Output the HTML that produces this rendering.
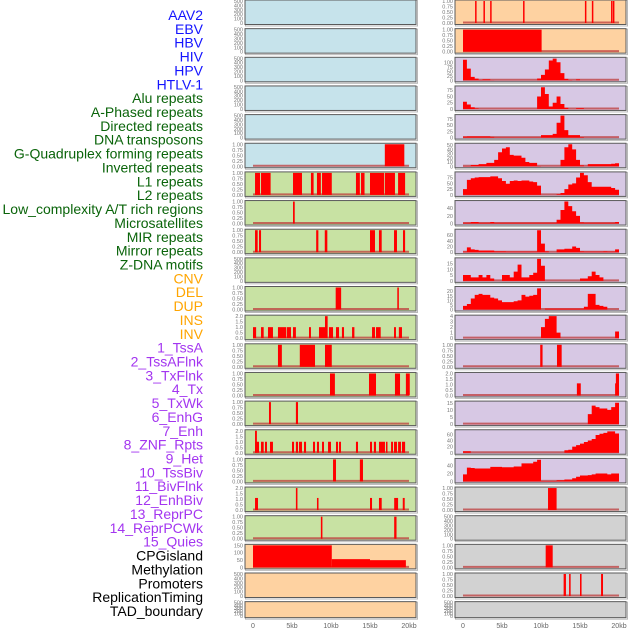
<!DOCTYPE html>
<html><head><meta charset="utf-8">
<style>
html,body{margin:0;padding:0;background:#fff;}
svg{display:block;font-family:"Liberation Sans",sans-serif;}
</style></head>
<body>
<svg id="chart" width="630" height="630" viewBox="0 0 630 630" xmlns="http://www.w3.org/2000/svg"></svg>
<script>
// ---------- labels ----------
const trackLabels = ["AAV2","EBV","HBV","HIV","HPV","HTLV-1","Alu repeats","A-Phased repeats","Directed repeats","DNA transposons","G-Quadruplex forming repeats","Inverted repeats","L1 repeats","L2 repeats","Low_complexity A/T rich regions","Microsatellites","MIR repeats","Mirror repeats","Z-DNA motifs","CNV","DEL","DUP","INS","INV","1_TssA","2_TssAFlnk","3_TxFlnk","4_Tx","5_TxWk","6_EnhG","7_Enh","8_ZNF_Rpts","9_Het","10_TssBiv","11_BivFlnk","12_EnhBiv","13_ReprPC","14_ReprPCWk","15_Quies","CPGisland","Methylation","Promoters","ReplicationTiming","TAD_boundary"];
const labelColors = ["#1414ff","#1414ff","#1414ff","#1414ff","#1414ff","#1414ff","#0a640a","#0a640a","#0a640a","#0a640a","#0a640a","#0a640a","#0a640a","#0a640a","#0a640a","#0a640a","#0a640a","#0a640a","#0a640a","#ffa500","#ffa500","#ffa500","#ffa500","#ffa500","#a335f0","#a335f0","#a335f0","#a335f0","#a335f0","#a335f0","#a335f0","#a335f0","#a335f0","#a335f0","#a335f0","#a335f0","#a335f0","#a335f0","#a335f0","#000","#000","#000","#000","#000"];
const xTickValues = [0,5,10,15,20];
const xTickLabels = ["0","5kb","10kb","15kb","20kb"];

// ---------- tick sets ----------
const ticks01 = [0,0.25,0.5,0.75,1];
const ticks01Labels = ["0.00","0.25","0.50","0.75","1.00"];
const ticks02 = [0,0.5,1,1.5,2];
const ticks02Labels = ["0.0","0.5","1.0","1.5","2.0"];
const ticks500 = [0,100,200,300,400,500];

// ---------- left column bar data [startKb, endKb, height] ----------
const barsL5 = [[16.9,19.4,1]];
const barsL6 = [[0.26,0.9,1],[1.03,2.26,1],[5.13,6.28,1],[7.43,7.77,1],[8.2,8.7,1],[8.85,10.1,1],[13.2,13.7,1],[13.85,14.3,1],[15.0,16.8,1],[16.9,18.2,1],[18.6,19.5,1]];
const barsL7 = [[5.13,5.35,1]];
const barsL8 = [[0.26,0.6,1],[0.77,1.03,1],[8.1,8.38,1],[9.2,9.53,1],[15.0,15.64,1],[16.15,16.5,1],[18.08,18.46,1],[19.23,19.5,1]];
const barsL10 = [[10.6,11.3,1],[18.5,18.7,1]];
const barsL11 = [[0,0.4,1],[1.03,1.37,1],[1.92,2.56,1],[3.2,4.27,1],[4.36,4.87,1],[5.13,5.5,1],[7.18,7.43,1],[8.46,9.23,1],[9.23,9.57,2],[9.74,10.26,1],[10.64,11.03,1],[11.4,11.67,1],[12.7,13.0,1],[15.26,15.64,1],[15.77,16.37,1],[18.08,18.33,1],[18.7,19.1,1]];
const barsL12 = [[3.2,3.7,1],[6.0,7.95,1],[9.23,10.1,1]];
const barsL13 = [[9.87,10.5,1],[14.87,15.77,1],[18.2,18.85,1],[19.6,20.1,1]];
const barsL14 = [[2.05,2.3,1],[5.5,5.77,1]];
const barsL15 = [[0.26,0.77,1],[0.26,0.5,2],[1.03,1.37,1],[1.54,1.79,1],[2.18,2.56,1],[5.0,5.26,1],[5.5,5.77,1],[5.9,6.28,1],[6.54,6.8,1],[7.69,7.95,1],[8.2,8.46,1],[8.85,9.1,1],[9.62,10.0,1],[10.64,10.9,1],[11.03,11.28,1],[13.2,13.46,1],[15.0,15.26,1],[15.5,15.77,1],[16.15,16.92,1],[17.05,17.2,1],[17.7,17.95,1],[18.08,18.46,1],[18.6,18.97,1],[19.1,19.5,1]];
const barsL16 = [[10.26,10.64,1],[13.7,14.1,1]];
const barsL17 = [[0.26,0.64,1.1],[5.5,5.7,2],[8.2,8.4,1.1],[15.0,15.26,1.1],[16.15,16.5,1.1],[18.1,18.6,1.1],[19.2,19.45,1.1]];
const barsL18 = [[8.7,8.9,1],[18.1,18.4,1]];
const barsL19 = [[0,10.1,150],[10.1,15.0,56],[15.0,19.6,49]];

// ---------- right column bar data ----------
const barsR0 = [[1.55,1.7,1],[2.62,2.77,1],[3.48,3.63,1],[7.7,7.85,1],[15.63,15.78,1],[16.52,16.67,1],[18.98,19.13,1],[19.22,19.37,1]];
const barsR1 = [[0,10.08,1]];
const barsR12 = [[9.9,10.2,1],[12.05,12.65,1]];
const barsR13 = [[14.6,15.1,1.1],[19.5,19.7,1.1],[19.6,20.0,2]];
const barsR17 = [[10.9,12.0,1]];
const barsR19 = [[10.6,11.5,1]];
const barsR20 = [[12.9,13.2,1],[13.6,13.8,1],[15.0,15.2,1],[17.7,17.95,1]];

// ---------- right column area data (0.5kb bins, 40 bins) ----------
const binSizeKb = 0.5;
const areaR2 = [114,65,19,9,2,5,5,1,0,0,0,0,0,0,0,0,0,0,0,10,30,60,110,120,100,40,8,2,0,5,0,0,0,0,0,0,0,0,0,0];
const areaR3 = [29,18,7,2,0,0,0,0,0,0,0,0,0,0,0,0,0,0,0,50,87,60,10,25,50,20,5,0,0,3,3,0,0,0,0,0,0,0,0,0];
const areaR4 = [4,5,5,5,5,5,5,3,1,1,1,1,1,1,1,1,1,1,1,1,10,10,10,15,60,89,30,10,10,10,2,0,0,0,0,0,0,0,0,0];
const areaR5 = [0.5,0.5,3,3,5,5,8,8,15,33,42,45,27,25,25,20,10,8,8,0.5,0,0,0,0,0,15,45,52,40,15,2,0,5,5,5,5,5,5,6,7];
const areaR6 = [25,65,72,75,77,77,77,80,80,72,60,48,60,62,60,62,62,58,55,40,0,0,0,0,3,8,25,45,50,75,95,85,55,35,35,35,35,35,30,22];
const areaR7 = [2,2,4,4,2,2,2,4,2,2,2,2,2,2,2,2,2,2,2,2,2,2,2,2,10,35,57,45,32,20,3,2,2,2,2,2,2,2,2,4];
const areaR8 = [2,17,10,8,6,6,6,6,3,3,3,2,2,2,2,2,2,2,2,77,30,3,0,0,10,10,12,12,20,15,3,2,2,2,2,2,3,2,2,10];
const areaR9 = [5,5,3,3,5,3,5,2,0,0,5,5,3,8,14,3,3,5,7,19,13,0,0,0,0,0,0,0,0,0,2,2,4,8,5,3,0,0,0,0];
const areaR10 = [4,6,12,16,17,16,16,13,12,10,8,8,8,9,10,16,14,15,16,23,0,1,1,1,1,1,1,1,1,1,1,3,17,17,5,4,3,0,0,0];
const areaR11 = [0,0,0,0,0,0,0,0,0,0,0,0,0,0,0,0,0,0,0,0,2,3.5,4,4,1,0,0,0,0,0,0,0,0,0,0,0,0,0,0,1.2];
const areaR14 = [0,0,0,0,0,0,0,0,0,0,0,0,0,0,0,0,0,0,0,0,0,0,0,0,0,0,0,0,0,0,0,0,7,13,12,11,11,10,12,15];
const areaR15 = [5,5,0,0,0,0,0,0,0,0,0,0,0,0,0,0,0,0,0,0,0,0,0,0,0,0,8,10,20,25,30,35,40,45,58,62,65,70,70,63];
const areaR16 = [18,35,34,33,33,33,33,37,37,37,36,36,36,38,38,46,46,46,50,55,1,1,1,1,3,3,5,5,8,12,15,15,16,18,20,20,20,18,20,20];

// ---------- panel configuration ----------
const LEFT_X = 245, RIGHT_X = 455, PANEL_W = 171;
const PITCH = 28.65, PANEL_H = 24.5, LAST_H = 16;
const C_BLUE="#c6e3eb", C_GREEN="#c8e2a3", C_PEACH="#fed2a1", C_LAV="#d7c8e4", C_GRAY="#d2d2d2";

function emptyP(fill){return {fill:fill,ymax:500,ticks:ticks500,tickLabels:null};}
function barP(fill,bars,ymax,ticks,labels){return {fill:fill,bars:bars,ymax:ymax,ticks:ticks,tickLabels:labels};}
function areaP(fill,area,ymax,ticks){return {fill:fill,area:area,ymax:ymax,ticks:ticks,tickLabels:null};}

const leftPanels = [
  emptyP(C_BLUE),emptyP(C_BLUE),emptyP(C_BLUE),emptyP(C_BLUE),emptyP(C_BLUE),
  barP(C_BLUE,barsL5,1,ticks01,ticks01Labels),
  barP(C_GREEN,barsL6,1,ticks01,ticks01Labels),
  barP(C_GREEN,barsL7,1,ticks01,ticks01Labels),
  barP(C_GREEN,barsL8,1,ticks01,ticks01Labels),
  emptyP(C_GREEN),
  barP(C_GREEN,barsL10,1,ticks01,ticks01Labels),
  barP(C_GREEN,barsL11,2,ticks02,ticks02Labels),
  barP(C_GREEN,barsL12,1,ticks01,ticks01Labels),
  barP(C_GREEN,barsL13,1,ticks01,ticks01Labels),
  barP(C_GREEN,barsL14,1,ticks01,ticks01Labels),
  barP(C_GREEN,barsL15,2,ticks02,ticks02Labels),
  barP(C_GREEN,barsL16,1,ticks01,ticks01Labels),
  barP(C_GREEN,barsL17,2,ticks02,ticks02Labels),
  barP(C_GREEN,barsL18,1,ticks01,ticks01Labels),
  barP(C_PEACH,barsL19,150,[0,50,100,150],null),
  emptyP(C_PEACH),emptyP(C_PEACH)
];
const rightPanels = [
  barP(C_PEACH,barsR0,1,ticks01,ticks01Labels),
  barP(C_PEACH,barsR1,1,ticks01,ticks01Labels),
  areaP(C_LAV,areaR2,122,[0,25,50,75,100]),
  areaP(C_LAV,areaR3,88,[0,25,50,75]),
  areaP(C_LAV,areaR4,89,[0,25,50,75]),
  areaP(C_LAV,areaR5,52,[0,10,20,30,40,50]),
  areaP(C_LAV,areaR6,95,[0,25,50,75]),
  areaP(C_LAV,areaR7,57,[0,20,40]),
  areaP(C_LAV,areaR8,77,[0,20,40,60]),
  areaP(C_LAV,areaR9,19,[0,5,10,15]),
  areaP(C_LAV,areaR10,24,[0,5,10,15,20]),
  areaP(C_LAV,areaR11,4,[0,1,2,3,4]),
  barP(C_LAV,barsR12,1,ticks01,ticks01Labels),
  barP(C_LAV,barsR13,2,ticks02,ticks02Labels),
  areaP(C_LAV,areaR14,15.5,[0,5,10,15]),
  areaP(C_LAV,areaR15,72,[0,20,40,60]),
  areaP(C_LAV,areaR16,56,[0,20,40]),
  barP(C_GRAY,barsR17,1,ticks01,ticks01Labels),
  emptyP(C_GRAY),
  barP(C_GRAY,barsR19,1,ticks01,ticks01Labels),
  barP(C_GRAY,barsR20,1,ticks01,ticks01Labels),
  emptyP(C_GRAY)
];

// ---------- drawing ----------
const svg = document.getElementById('chart');
const NS = "http://www.w3.org/2000/svg";
function mk(tag, attrs, parent){
  const e = document.createElementNS(NS, tag);
  for (const k in attrs) e.setAttribute(k, attrs[k]);
  (parent||svg).appendChild(e);
  return e;
}

// labels
trackLabels.forEach((t,k)=>{
  const el = mk('text',{x:203,y:(15+k*13.86+5).toFixed(1),'text-anchor':'end','font-size':'14',fill:labelColors[k]});
  
  
  el.textContent = t;
});

function drawPanel(p, i, px, side){
  const top = i*PITCH;
  const h = (i===21)?LAST_H:PANEL_H;
  const g = mk('g',{});
  
  
  const shadow = mk('rect',{x:px+0.5,y:top+0.5,width:PANEL_W+1,height:h+1,fill:'none',stroke:'#b8b8b8','stroke-width':1},g);
  
  
  const bg = mk('rect',{x:px,y:top,width:PANEL_W,height:h,fill:p.fill,stroke:'#5a5a5a','stroke-width':1},g);
  
  
  const x0 = px+8, x1 = px+164;
  const xs = kb => x0 + (kb/20)*(x1-x0);
  const yb = top+h-1.5, yt = top+1;
  const ys = v => yb - (v/p.ymax)*(yb-yt);
  // y ticks
  p.ticks.forEach((tv,j)=>{
    const lab = p.tickLabels ? p.tickLabels[j] : String(tv);
    const tt = mk('text',{x:px-2,y:(ys(tv)+2).toFixed(1),'text-anchor':'end','font-size':'5.5',fill:'#777'},g);
    
    
    tt.textContent = lab;
  });
  if (p.bars || p.area){
    const base = mk('line',{x1:xs(0),x2:xs(20),y1:yb-0.5,y2:yb-0.5,stroke:'rgba(190,60,60,0.75)','stroke-width':2},g);
    
    
  }
  if (p.bars){
    p.bars.forEach(b=>{
      const xa = xs(b[0]), xb = xs(b[1]);
      const w = Math.max(1.5, xb-xa);
      const r = mk('rect',{x:xa.toFixed(2),y:ys(b[2]).toFixed(2),width:w.toFixed(2),height:(yb-ys(b[2])).toFixed(2),fill:'#ff0000'},g);
      
      
    });
  }
  if (p.area){
    let d = 'M'+xs(0).toFixed(2)+','+yb.toFixed(2);
    p.area.forEach((v,k)=>{
      const xa = xs(k*binSizeKb), xb = xs((k+1)*binSizeKb);
      d += ' L'+xa.toFixed(2)+','+ys(v).toFixed(2)+' L'+xb.toFixed(2)+','+ys(v).toFixed(2);
    });
    d += ' L'+xs(p.area.length*binSizeKb).toFixed(2)+','+yb.toFixed(2)+' Z';
    const a = mk('path',{d:d,fill:'#ff0000'},g);
    
    
  }
  return xs;
}

let lxs, rxs;
leftPanels.forEach((p,i)=>{ lxs = drawPanel(p,i,LEFT_X,'left'); });
rightPanels.forEach((p,i)=>{ rxs = drawPanel(p,i,RIGHT_X,'right'); });

// x axis labels
[[lxs,'left'],[rxs,'right']].forEach(([xs,side])=>{
  xTickValues.forEach((v,j)=>{
    const t = mk('text',{x:xs(v).toFixed(1),y:628,'text-anchor':'middle','font-size':'7',fill:'#666'});
    
    
    t.textContent = xTickLabels[j];
  });
});
</script>
</body></html>
